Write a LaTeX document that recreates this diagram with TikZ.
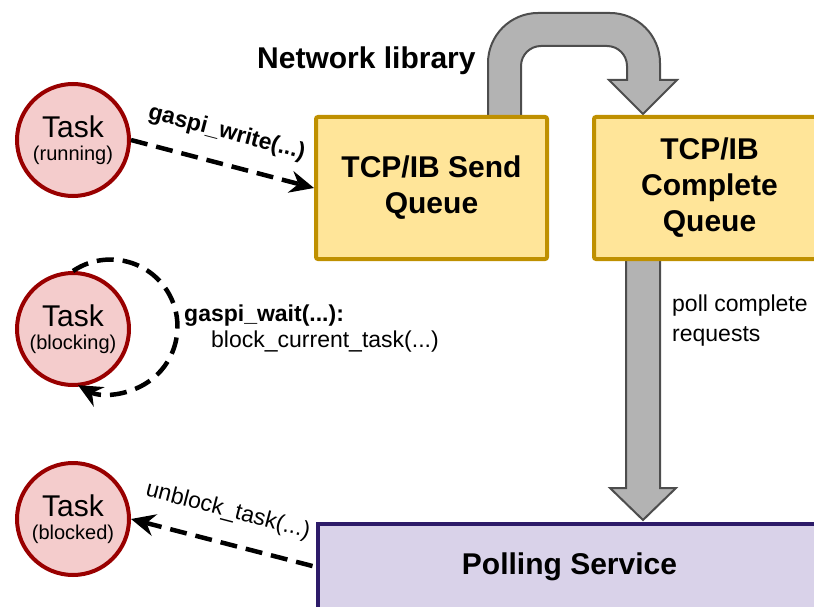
\documentclass[tikz,border=0pt]{standalone}
\usepackage{fontspec}
\setmainfont{Liberation Sans}
\usetikzlibrary{arrows.meta,backgrounds}

\definecolor{taskfill}{HTML}{F4CCCC}
\definecolor{taskline}{HTML}{990000}
\definecolor{queuefill}{HTML}{FFE599}
\definecolor{queueline}{HTML}{BF9000}
\definecolor{pollfill}{HTML}{D9D2E9}
\definecolor{pollline}{HTML}{2D1B69}
\definecolor{bigfill}{HTML}{B3B3B3}
\definecolor{bigline}{HTML}{4D4D4D}

\begin{document}
\begin{tikzpicture}[x=1pt,y=-1pt,
  >={Stealth[length=24pt,width=22pt,inset=8pt]},
  task/.style={circle, draw=taskline, fill=taskfill, line width=4pt,
    minimum size=112pt, inner sep=0pt, align=center,
    font=\fontsize{20}{23}\selectfont},
  queue/.style={rectangle, rounded corners=2pt, draw=queueline, fill=queuefill,
    line width=4pt, minimum width=231pt, minimum height=142pt, align=center,
    font=\fontsize{30}{36}\selectfont\bfseries},
  service/.style={rectangle, draw=pollline, fill=pollfill, line width=3.5pt,
    minimum width=503pt, minimum height=86pt,
    font=\fontsize{30}{36}\selectfont\bfseries},
  bigarrow/.style={draw=bigline, fill=bigfill, line width=2pt, line join=miter},
  call/.style={line width=4.5pt, dash pattern=on 17pt off 9pt},
  lbl/.style={font=\fontsize{23}{26}\selectfont, inner sep=0pt},
  boldlbl/.style={lbl, font=\fontsize{23}{26}\selectfont\bfseries},
]
\useasboundingbox (0,0) rectangle (814,607);
\clip (0,0) rectangle (814,607);

% tasks
\node[task] (run) at (73,140) {{\fontsize{30}{36}\selectfont Task}\\(running)};
\node[task] (blk) at (73,329) {{\fontsize{30}{36}\selectfont Task}\\(blocking)};
\node[task] (bkd) at (73,519) {{\fontsize{30}{36}\selectfont Task}\\(blocked)};

% queues and polling service
\node[queue] (send) at (431.5,188) {TCP/IB Send\\Queue};
\node[queue] (done) at (709.5,188) {TCP/IB\\Complete\\Queue};
\node[service] (poll) at (569.5,567) {Polling Service};

\node[font=\fontsize{30}{34}\selectfont\bfseries, anchor=base west, inner sep=0pt]
  (netlbl) at (257,69) {Network library};

% block arrows behind the boxes
\begin{scope}[on background layer]
  \draw[bigarrow] (488,119) -- (488,63) arc[start angle=180, end angle=90, radius=50pt]
    -- (610,13) arc[start angle=90, end angle=0, radius=50pt]
    -- (660,80) -- (677,80) -- (643,114) -- (609,80) -- (627,80)
    -- (627,66) arc[start angle=0, end angle=90, radius=20pt]
    -- (541,46) arc[start angle=90, end angle=180, radius=20pt]
    -- (521,119) -- cycle;
  \draw[bigarrow] (626,259) -- (626,488) -- (610,488) -- (643,520) -- (676,488)
    -- (660,488) -- (660,259) -- cycle;
\end{scope}

\node[lbl, anchor=north west, align=left, font=\fontsize{23}{30}\selectfont]
  (polllbl) at (672,295) {poll complete\\requests};

% calls between tasks and the runtime
\draw[call, ->] (run.east) -- node[boldlbl, sloped, above=18pt, pos=0.48] {gaspi\_write(...)} (send.west);

\draw[call, ->] (blk.north) arc[start angle=124, end angle=-119, radius=67pt];
\node[lbl, anchor=north west, align=left] (waitlbl) at (184,305)
  {\textbf{gaspi\_wait(...):}\\\hspace*{27pt}block\_current\_task(...)};

\draw[call, <-] (bkd.east) -- node[lbl, sloped, above=19pt, pos=0.48] {unblock\_task(...)} (poll.west);
\end{tikzpicture}
\end{document}
